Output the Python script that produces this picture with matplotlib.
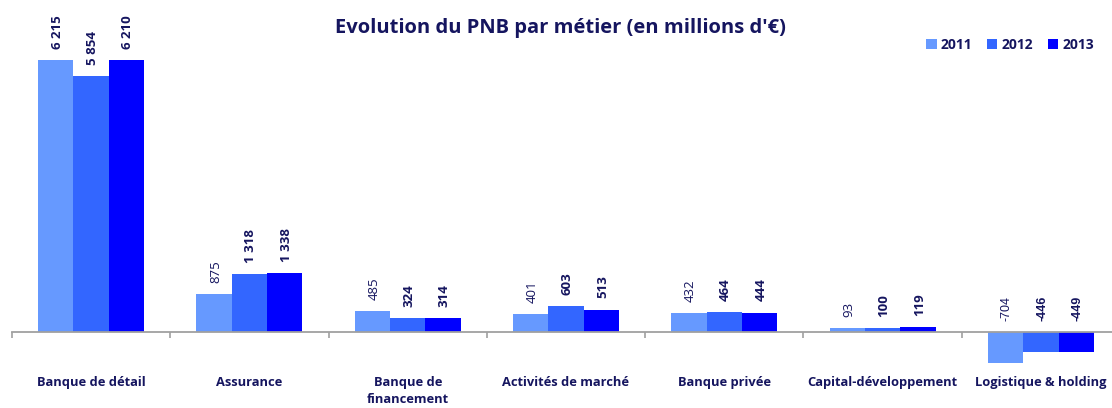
import numpy as np
import matplotlib
matplotlib.use("Agg")
import matplotlib.pyplot as plt
from matplotlib.patches import Patch

# -----------------------------------------------------------------------------
# Data
# -----------------------------------------------------------------------------
categories = [
    "Banque de détail", "Assurance", "Banque de\nfinancement",
    "Activités de marché", "Banque privée", "Capital-développement",
    "Logistique & holding",
]
years = ["2011", "2012", "2013"]
pnb_2011 = [6215, 875, 485, 401, 432, 93, -704]
pnb_2012 = [5854, 1318, 324, 603, 464, 100, -446]
pnb_2013 = [6210, 1338, 314, 513, 444, 119, -449]

# -----------------------------------------------------------------------------
# Style
# -----------------------------------------------------------------------------
colors = ["#6699FF", "#3366FF", "#0000FF"]
navy = "#15155F"
axis_grey = "#A0A0A0"
bold_2011 = [True, False, False, False, False, False, False]

plt.rcParams["font.family"] = ["Open Sans", "DejaVu Sans"]


def fmt(v):
    return f"{v:,}".replace(",", " ")


fig = plt.figure(figsize=(11.12, 4.08), dpi=100)
ax = fig.add_axes([12 / 1112, 0, 1108 / 1112, 1])

x = np.arange(len(categories))
width = 0.223
series = [pnb_2011, pnb_2012, pnb_2013]

for i, (vals, col) in enumerate(zip(series, colors)):
    xs = x + (i - 1) * width
    ax.bar(xs, vals, width=width, color=col, edgecolor="none", zorder=2)
    for j, (xi, v) in enumerate(zip(xs, vals)):
        weight = "bold" if (i > 0 or bold_2011[j]) else "normal"
        if v >= 0:
            ax.annotate(fmt(v), (xi, v), xytext=(1, 8), textcoords="offset points",
                        rotation=90, ha="center", va="bottom", fontsize=9.5,
                        fontweight=weight, color=navy)
        else:
            ax.annotate(fmt(v), (xi, 0), xytext=(1, 8), textcoords="offset points",
                        rotation=90, ha="center", va="bottom", fontsize=9,
                        fontweight=weight, color=navy, family="Liberation Sans")

ax.set_xlim(-0.5, len(categories) - 0.5)
ax.set_ylim(-1736, 7585)

# axis line at zero, ticks between categories
for s in ["left", "right", "top"]:
    ax.spines[s].set_visible(False)
ax.spines["bottom"].set_position(("data", 0))
ax.spines["bottom"].set_color(axis_grey)
ax.spines["bottom"].set_linewidth(1.3)
ax.spines["bottom"].set_zorder(3)
ax.yaxis.set_visible(False)

ax.set_xticks(x)
ax.set_xticklabels(categories, fontsize=9.3, fontweight="bold", color=navy,
                   linespacing=1.4)
ax.tick_params(axis="x", which="major", length=0, pad=32)
ax.set_xticks(np.arange(len(categories) + 1) - 0.5, minor=True)
ax.tick_params(axis="x", which="minor", length=4, width=1.2, color=axis_grey,
               direction="out")

fig.text(560 / 1112, 1 - 28 / 408, "Evolution du PNB par métier (en millions d'€)",
         ha="center", va="center", fontsize=14.5, fontweight="bold", color=navy)

handles = [Patch(facecolor=c, edgecolor="none") for c in colors]
leg = fig.legend(handles, years, loc="center right",
                 bbox_to_anchor=(1101 / 1112, 1 - 45 / 408), ncol=3,
                 frameon=False, handlelength=0.75, handleheight=0.75,
                 handletextpad=0.3, columnspacing=1.05, borderpad=0,
                 prop={"weight": "bold", "size": 10})
for t in leg.get_texts():
    t.set_color(navy)

fig.savefig("out.png", dpi=100)
